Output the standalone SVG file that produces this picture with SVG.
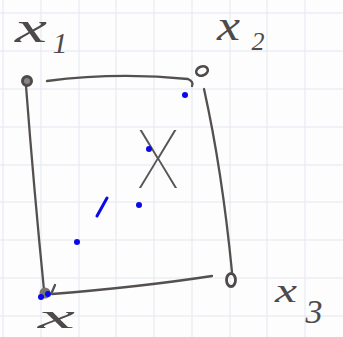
<svg xmlns="http://www.w3.org/2000/svg" width="343" height="337" viewBox="0 0 343 337">
  <style>
    .grid line { stroke: #e4e7f0; stroke-width: 1; }
    .pen { fill: none; stroke: #555050; stroke-width: 2.3; stroke-linecap: round; }
    .lbl { font-family: "Liberation Serif", "DejaVu Serif", serif; font-style: italic; fill: #4f4a4a; }
    .big { font-family: Roboto, Inter, "DejaVu Sans", sans-serif; font-weight: 100; fill: #5a5555; }
    .pt { fill: #0a0ae8; }
  </style>
  <rect width="343" height="337" fill="#fdfdfd"/>
  <g class="grid">
    <line x1="3" y1="0" x2="3" y2="337"/>
    <line x1="41" y1="0" x2="41" y2="337"/>
    <line x1="79" y1="0" x2="79" y2="337"/>
    <line x1="116" y1="0" x2="116" y2="337"/>
    <line x1="154" y1="0" x2="154" y2="337"/>
    <line x1="192" y1="0" x2="192" y2="337"/>
    <line x1="230" y1="0" x2="230" y2="337"/>
    <line x1="267" y1="0" x2="267" y2="337"/>
    <line x1="305" y1="0" x2="305" y2="337"/>
    <line x1="0" y1="13" x2="343" y2="13"/>
    <line x1="0" y1="51" x2="343" y2="51"/>
    <line x1="0" y1="89" x2="343" y2="89"/>
    <line x1="0" y1="127" x2="343" y2="127"/>
    <line x1="0" y1="165" x2="343" y2="165"/>
    <line x1="0" y1="202" x2="343" y2="202"/>
    <line x1="0" y1="240" x2="343" y2="240"/>
    <line x1="0" y1="278" x2="343" y2="278"/>
    <line x1="0" y1="316" x2="343" y2="316"/>
  </g>
  <g id="connectors">
    <path class="pen" d="M26,86 Q34,190 44,290"/>
    <path class="pen" d="M47,81 Q117,72 188,79 Q194,82 192,86"/>
    <path class="pen" d="M204,89 Q222,170 232,272"/>
    <path class="pen" d="M52,294 Q140,287 212,276"/>
  </g>
  <g id="node-x1">
    <circle cx="27" cy="81" r="4.5" fill="#8a8585" stroke="#4f4a4a" stroke-width="3"/>
    <text class="lbl" x="15" y="42" font-size="44" textLength="32" lengthAdjust="spacingAndGlyphs">x</text>
    <text class="lbl" x="60" y="53" font-size="30" text-anchor="middle">1</text>
  </g>
  <g id="node-x2">
    <ellipse cx="202" cy="71" rx="6" ry="4.5" transform="rotate(-20 202 71)" fill="none" stroke="#4f4a4a" stroke-width="2.5"/>
    <text class="lbl" x="217" y="40" font-size="44" textLength="23" lengthAdjust="spacingAndGlyphs">x</text>
    <text class="lbl" x="258" y="50" font-size="26" text-anchor="middle">2</text>
  </g>
  <g id="node-x3">
    <ellipse cx="231" cy="280" rx="4.5" ry="6.5" fill="none" stroke="#4f4a4a" stroke-width="2.8"/>
    <text class="lbl" x="275" y="302" font-size="33" textLength="22" lengthAdjust="spacingAndGlyphs">x</text>
    <text class="lbl" x="314" y="323" font-size="34" text-anchor="middle">3</text>
  </g>
  <g id="node-x">
    <circle cx="45" cy="293" r="5.5" fill="#7a7575"/>
    <path class="pen" d="M52,292 L55,285" stroke-width="2"/>
    <text class="lbl" x="38" y="328" font-size="34" textLength="37" lengthAdjust="spacingAndGlyphs">x</text>
  </g>
  <g id="node-X">
    <text class="big" x="158" y="188" font-size="82" text-anchor="middle" textLength="42" lengthAdjust="spacingAndGlyphs">X</text>
  </g>
  <g id="points">
    <circle class="pt" cx="185" cy="95" r="3"/>
    <circle class="pt" cx="149" cy="149" r="3"/>
    <circle class="pt" cx="139" cy="205" r="3"/>
    <circle class="pt" cx="77" cy="242" r="3"/>
    <circle class="pt" cx="41" cy="297" r="3"/>
    <circle class="pt" cx="48" cy="294" r="3"/>
    <line x1="97" y1="216" x2="107" y2="198" stroke="#0a0ae8" stroke-width="3" stroke-linecap="round"/>
  </g>
</svg>
